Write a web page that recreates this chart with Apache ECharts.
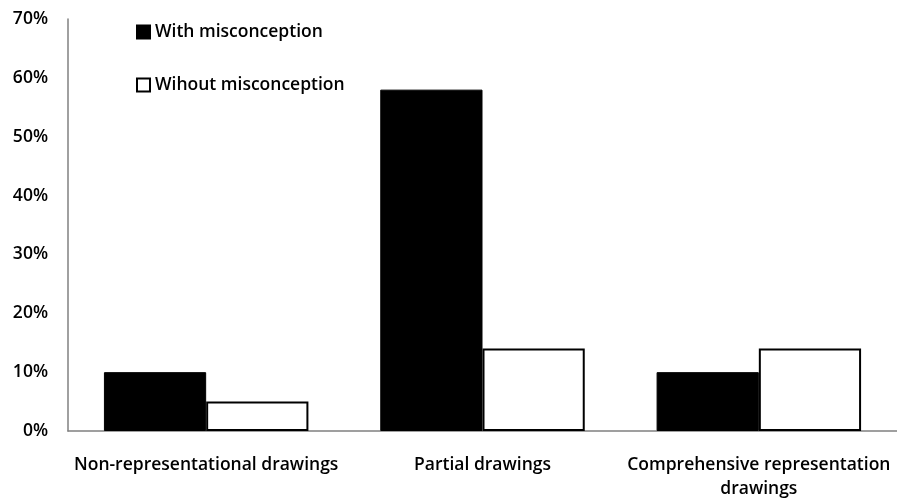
<!DOCTYPE html>
<html>
<head>
<meta charset="utf-8">
<script src="https://cdn.jsdelivr.net/npm/echarts@6/dist/echarts.min.js"></script>
<style>
  html, body { margin: 0; padding: 0; background: #fff; }
  #chart { width: 897px; height: 499px; }
</style>
</head>
<body>
<div id="chart"></div>
<script>
let categories = ['Non-representational drawings', 'Partial drawings', 'Comprehensive representation\ndrawings']
let withMis = [10, 58, 10]
let withoutMis = [5, 14, 14]

let font = 'Open Sans'

echarts.init(document.querySelector('#chart')).setOption({
    animation: false,
    textStyle: { fontFamily: font },
    legend: {
        orient: 'vertical',
        left: 131,
        top: 18,
        itemGap: 35,
        itemWidth: 13,
        itemHeight: 13,
        icon: 'rect',
        textStyle: { fontSize: 17.5, fontWeight: 600, color: '#000', fontFamily: font }
    },
    grid: { left: 68, right: 0, top: 19, bottom: 68, containLabel: false, outerBoundsMode: 'none' },
    xAxis: {
        type: 'category',
        data: categories,
        axisLine: { lineStyle: { color: '#808080', width: 1.5 } },
        axisTick: { show: false },
        axisLabel: { interval: 0, fontSize: 17.5, fontWeight: 600, color: '#000', margin: 22, lineHeight: 24, fontFamily: font }
    },
    yAxis: {
        type: 'value',
        min: 0,
        max: 70,
        interval: 10,
        axisLine: { show: true, lineStyle: { color: '#808080', width: 1.5 } },
        axisTick: { show: false },
        splitLine: { show: false },
        axisLabel: {
            formatter: '{value}%',
            fontSize: 17.5,
            fontWeight: 600,
            color: '#000',
            margin: 20,
            fontFamily: font
        }
    },
    series: [{
        name: 'With misconception',
        type: 'bar',
        data: withMis,
        barGap: '0%',
        barCategoryGap: '26%',
        itemStyle: { color: '#000', borderColor: '#000', borderWidth: 1 }
    }, {
        name: 'Wihout misconception',
        type: 'bar',
        data: withoutMis,
        itemStyle: { color: '#fff', borderColor: '#000', borderWidth: 2 }
    }]
});
</script>
</body>
</html>
